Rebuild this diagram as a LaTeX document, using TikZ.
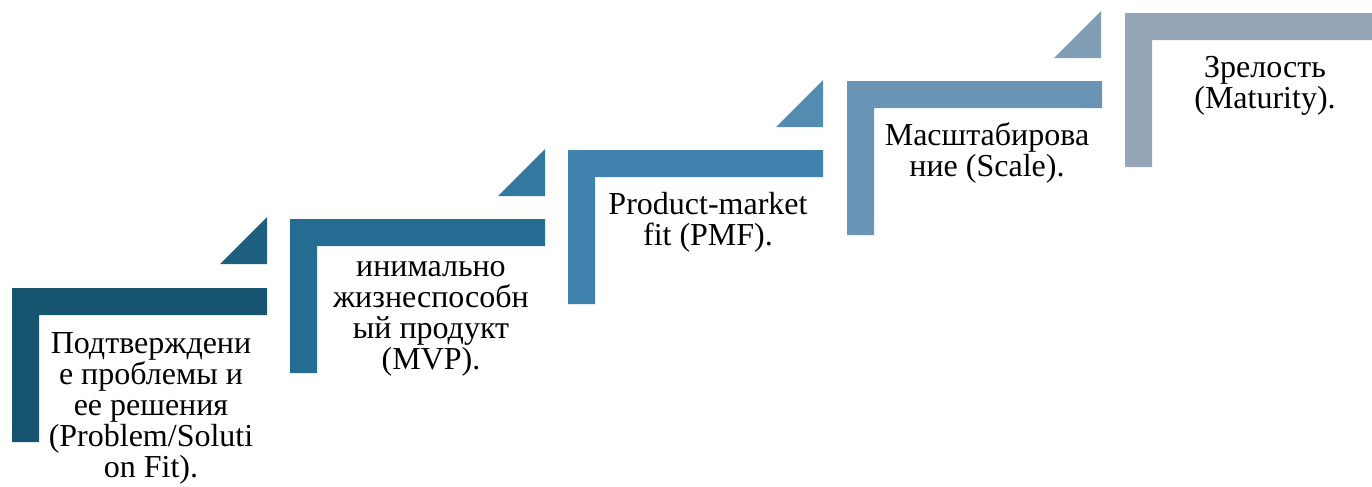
\documentclass[tikz,border=0pt]{standalone}
\usepackage{fontspec}
\setmainfont{Liberation Serif}
\usetikzlibrary{positioning}
\definecolor{barA}{HTML}{16546F}
\definecolor{triA}{HTML}{1F5F80}
\definecolor{barB}{HTML}{246C92}
\definecolor{triB}{HTML}{3378A0}
\definecolor{barC}{HTML}{4282AE}
\definecolor{triC}{HTML}{548BB0}
\definecolor{barD}{HTML}{6A94B5}
\definecolor{triD}{HTML}{7F9DB5}
\definecolor{barE}{HTML}{94A5B5}
\tikzstyle{steptext} = [anchor=north, inner sep=0pt, align=center, font=\rmfamily\fontsize{24}{23.25}\selectfont]
% L-shaped bracket: #1 = colour, (#2,#3) = top-left corner
\newcommand{\stepbar}[3]{%
	\fill[#1] (#2,#3) -- ++(255,0) -- ++(0,27) -- ++(-228,0) -- ++(0,127) -- ++(-27,0) -- cycle;}
% corner triangle: #1 = colour, (#2,#3) = bottom-right corner
\newcommand{\steptri}[3]{%
	\fill[#1] (#2,#3) -- ++(-47,0) -- ++(47,-47) -- cycle;}

\begin{document}
\begin{tikzpicture}[x=0.75pt,y=-0.75pt]
		\useasboundingbox (0,0) rectangle (1372,486);
		
		\stepbar{barA}{12}{288}
		\steptri{triA}{267}{264}
		\stepbar{barB}{290}{219}
		\steptri{triB}{545}{196}
		\stepbar{barC}{568}{150}
		\steptri{triC}{823}{127}
		\stepbar{barD}{847}{81}
		\steptri{triD}{1101}{58}
		\stepbar{barE}{1125}{13}
		
		\node (problem) [steptext] at (151,332) {Подтверждени\\е проблемы и\\ее решения\\(Problem/Soluti\\on Fit).};
		\node (mvp) [steptext] at (431,261) {инимально\\жизнеспособн\\ый продукт\\(MVP).};
		\node (pmf) [steptext] at (708,192) {Product-market\\fit (PMF).};
		\node (scale) [steptext] at (987,122) {Масштабирова\\ние (Scale).};
		\node (maturity) [steptext] at (1265,56) {Зрелость\\(Maturity).};
	
	\end{tikzpicture}
\end{document}
